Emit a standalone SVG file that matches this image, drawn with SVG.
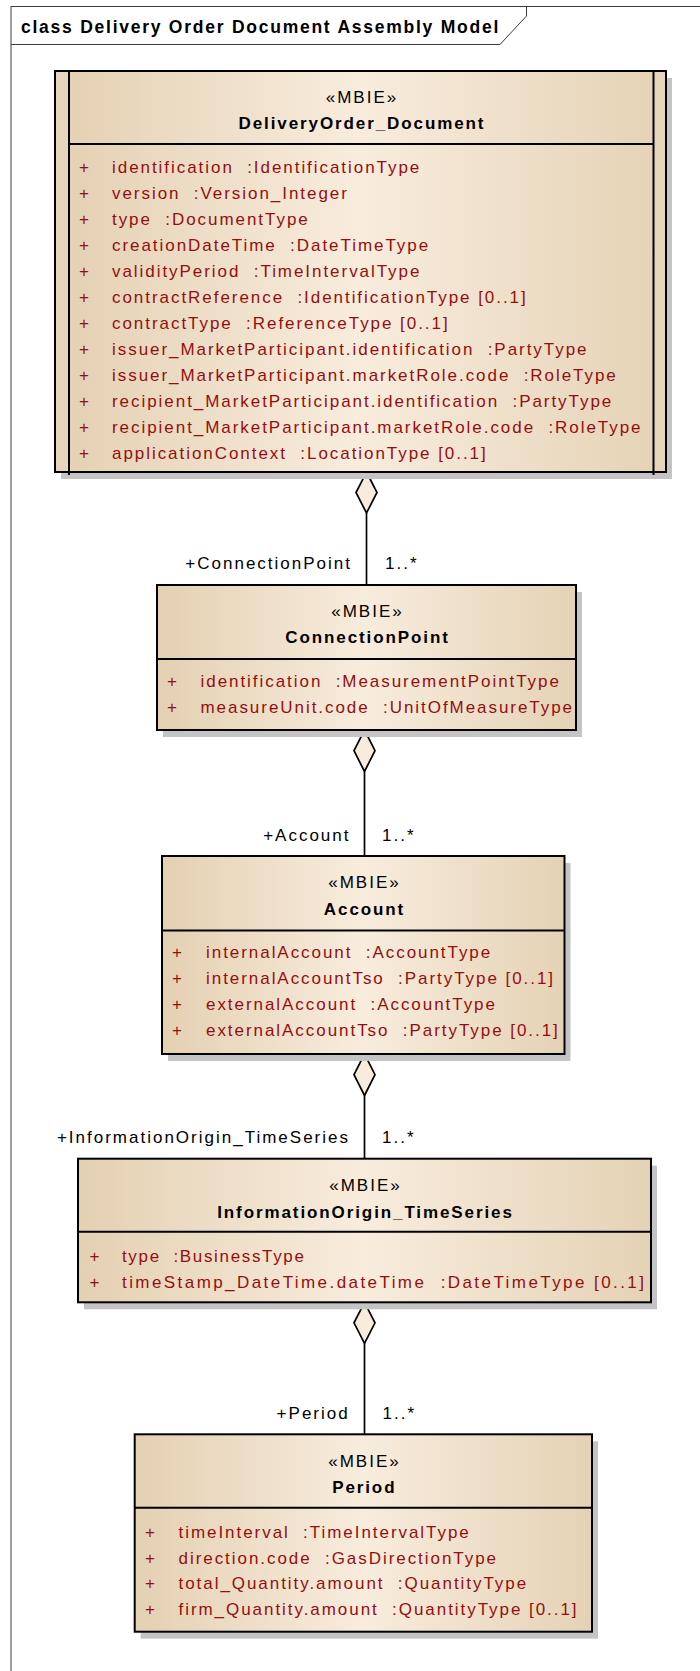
<svg xmlns="http://www.w3.org/2000/svg" width="700" height="1671" viewBox="0 0 700 1671">
<defs>
<linearGradient id="g" x1="0" y1="0" x2="1" y2="0">
<stop offset="0" stop-color="#e4d0b2"/>
<stop offset="0.5" stop-color="#f8ecdd"/>
<stop offset="1" stop-color="#e5d2b5"/>
</linearGradient>
<style>
.frame{fill:none;stroke:#3c3c3c;stroke-width:1}
.box{fill:url(#g);stroke:#000;stroke-width:2}
.strip{fill:#e7d5bb;stroke:none}
.sh{fill:#c4c4c4}
.sep{stroke:#000;stroke-width:2;fill:none}
.ttl{font-family:"Liberation Sans",Arial,sans-serif;font-size:17.5px;font-weight:bold;letter-spacing:1.75px;fill:#000}
.st{font-family:"Liberation Sans",Arial,sans-serif;font-size:17px;letter-spacing:2px;fill:#000;text-anchor:middle}
.nm{font-family:"Liberation Sans",Arial,sans-serif;font-size:17px;font-weight:bold;letter-spacing:1.9px;fill:#000;text-anchor:middle}
.at{font-family:"Liberation Sans",Arial,sans-serif;font-size:17px;letter-spacing:1.95px;fill:#930f0f}
.lb{font-family:"Liberation Sans",Arial,sans-serif;font-size:17px;letter-spacing:2px;fill:#000}
.end{text-anchor:end}
.narrow{letter-spacing:1.65px}
.wide{letter-spacing:2.43px}
.cn{stroke:#000;stroke-width:1.7;fill:none}
.dm{fill:#f8ecdd;stroke:#000;stroke-width:1.7}
</style>
</defs>
<rect width="700" height="1671" fill="#fff"/>
<g id="frame">
<rect class="frame" x="11" y="6.5" width="720" height="1700"/>
<path class="frame" d="M11,44.5 H500 L526.5,16 V6.5"/>
<text class="ttl" x="21" y="32.5">class Delivery Order Document Assembly Model</text>
</g>
<g id="connectors">
<line class="cn" x1="366.5" y1="513" x2="366.5" y2="585"/>
<path class="dm" d="M366.5,472 L377,492.5 L366.5,513 L356,492.5 Z"/>
<text class="lb end" x="352" y="568.5">+ConnectionPoint</text>
<text class="lb" x="385" y="568.5">1..*</text>
<line class="cn" x1="364.5" y1="771.5" x2="364.5" y2="856"/>
<path class="dm" d="M364.5,730 L375,750.7 L364.5,771.5 L354,750.7 Z"/>
<text class="lb end" x="350.5" y="840.7">+Account</text>
<text class="lb" x="382" y="840.7">1..*</text>
<line class="cn" x1="364.5" y1="1095.5" x2="364.5" y2="1158.7"/>
<path class="dm" d="M364.5,1054 L375,1074.7 L364.5,1095.5 L354,1074.7 Z"/>
<text class="lb end" x="350" y="1143.3">+InformationOrigin_TimeSeries</text>
<text class="lb" x="382" y="1143.3">1..*</text>
<line class="cn" x1="364.5" y1="1343.3" x2="364.5" y2="1434.3"/>
<path class="dm" d="M364.5,1302.3 L375,1322.8 L364.5,1343.3 L354,1322.8 Z"/>
<text class="lb end" x="349.7" y="1419.3">+Period</text>
<text class="lb" x="382.5" y="1419.3">1..*</text>
</g>
<g id="DeliveryOrder_Document">
<rect class="sh" x="61" y="78" width="611" height="401"/>
<rect class="box" x="55" y="71" width="611" height="401"/>
<rect class="strip" x="56" y="72" width="13" height="399"/>
<rect class="strip" x="654" y="72" width="11" height="399"/>
<line class="sep" x1="69" y1="71" x2="69" y2="475"/>
<line class="sep" x1="653.5" y1="71" x2="653.5" y2="475"/>
<line class="sep" x1="69" y1="144" x2="653.5" y2="144"/>
<text class="st" x="362" y="103">«MBIE»</text>
<text class="nm" x="362" y="128.5">DeliveryOrder_Document</text>
<g class="at">
<text x="79" y="172.5">+</text><text x="112" y="172.5">identification&#160; :IdentificationType</text>
<text x="79" y="198.5">+</text><text x="112" y="198.5">version&#160; :Version_Integer</text>
<text x="79" y="224.5">+</text><text x="112" y="224.5">type&#160; :DocumentType</text>
<text x="79" y="250.5">+</text><text x="112" y="250.5">creationDateTime&#160; :DateTimeType</text>
<text x="79" y="276.5">+</text><text x="112" y="276.5">validityPeriod&#160; :TimeIntervalType</text>
<text x="79" y="302.5">+</text><text x="112" y="302.5">contractReference&#160; :IdentificationType [0..1]</text>
<text x="79" y="328.5">+</text><text x="112" y="328.5">contractType&#160; :ReferenceType [0..1]</text>
<text x="79" y="354.5">+</text><text x="112" y="354.5">issuer_MarketParticipant.identification&#160; :PartyType</text>
<text x="79" y="380.5">+</text><text x="112" y="380.5">issuer_MarketParticipant.marketRole.code&#160; :RoleType</text>
<text x="79" y="406.5">+</text><text x="112" y="406.5">recipient_MarketParticipant.identification&#160; :PartyType</text>
<text x="79" y="432.5">+</text><text x="112" y="432.5">recipient_MarketParticipant.marketRole.code&#160; :RoleType</text>
<text x="79" y="458.5">+</text><text x="112" y="458.5">applicationContext&#160; :LocationType [0..1]</text>
</g>
</g>
<g id="ConnectionPoint">
<rect class="sh" x="163" y="592" width="419" height="145"/>
<rect class="box" x="157" y="585" width="419" height="145"/>
<line class="sep" x1="157" y1="659" x2="576" y2="659"/>
<text class="st" x="367.5" y="616.7">«MBIE»</text>
<text class="nm" x="367.5" y="642.7">ConnectionPoint</text>
<g class="at">
<text x="167" y="686.7">+</text><text x="200.5" y="686.7">identification&#160; :MeasurementPointType</text>
<text x="167" y="712.5">+</text><text x="200.5" y="712.5">measureUnit.code&#160; :UnitOfMeasureType</text>
</g>
</g>
<g id="Account">
<rect class="sh" x="168" y="863" width="402.5" height="198"/>
<rect class="box" x="162" y="856" width="402.5" height="198"/>
<line class="sep" x1="162" y1="930.5" x2="564.5" y2="930.5"/>
<text class="st" x="364.5" y="888.3">«MBIE»</text>
<text class="nm" x="364.5" y="914.5">Account</text>
<g class="at">
<text x="172" y="958.3">+</text><text x="206" y="958.3">internalAccount&#160; :AccountType</text>
<text x="172" y="984.3">+</text><text x="206" y="984.3">internalAccountTso&#160; :PartyType [0..1]</text>
<text x="172" y="1010.3">+</text><text x="206" y="1010.3">externalAccount&#160; :AccountType</text>
<text x="172" y="1036.3">+</text><text x="206" y="1036.3">externalAccountTso&#160; :PartyType [0..1]</text>
</g>
</g>
<g id="InformationOrigin_TimeSeries">
<rect class="sh" x="84" y="1165.7" width="573" height="143.6"/>
<rect class="box" x="78" y="1158.7" width="573" height="143.6"/>
<line class="sep" x1="78" y1="1231.7" x2="651" y2="1231.7"/>
<text class="st" x="365.5" y="1191">«MBIE»</text>
<text class="nm" x="365.5" y="1217.5">InformationOrigin_TimeSeries</text>
<g class="at">
<text x="89.5" y="1262">+</text><text class="narrow" x="122" y="1262">type&#160; :BusinessType</text>
<text x="89.5" y="1288.3">+</text><text class="wide" x="122" y="1288.3">timeStamp_DateTime.dateTime&#160; :DateTimeType [0..1]</text>
</g>
</g>
<g id="Period">
<rect class="sh" x="140.7" y="1441.3" width="457.3" height="197.4"/>
<rect class="box" x="134.7" y="1434.3" width="457.3" height="197.4"/>
<line class="sep" x1="134.7" y1="1507.7" x2="592" y2="1507.7"/>
<text class="st" x="364.5" y="1467.3">«MBIE»</text>
<text class="nm" x="364.3" y="1493.3">Period</text>
<g class="at">
<text x="145" y="1537.7">+</text><text x="178.5" y="1537.7">timeInterval&#160; :TimeIntervalType</text>
<text x="145" y="1563.5">+</text><text x="178.5" y="1563.5">direction.code&#160; :GasDirectionType</text>
<text x="145" y="1589.4">+</text><text x="178.5" y="1589.4">total_Quantity.amount&#160; :QuantityType</text>
<text x="145" y="1615.2">+</text><text x="178.5" y="1615.2">firm_Quantity.amount&#160; :QuantityType [0..1]</text>
</g>
</g>
</svg>
